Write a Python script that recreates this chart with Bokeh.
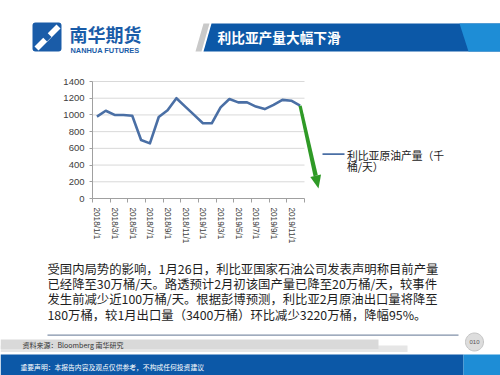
import numpy as np
from bokeh.plotting import figure
from bokeh.models import (Range1d, FixedTicker, Label, BoxAnnotation, PolyAnnotation, LinearAxis)
from bokeh.embed import file_html
from bokeh.resources import INLINE

# ---------------- data ----------------
months = ["2018/1/1", "2018/2/1", "2018/3/1", "2018/4/1", "2018/5/1", "2018/6/1",
          "2018/7/1", "2018/8/1", "2018/9/1", "2018/10/1", "2018/11/1", "2018/12/1",
          "2019/1/1", "2019/2/1", "2019/3/1", "2019/4/1", "2019/5/1", "2019/6/1",
          "2019/7/1", "2019/8/1", "2019/9/1", "2019/10/1", "2019/11/1", "2019/12/1"]
production = [980, 1050, 1000, 1000, 990, 700, 660, 975, 1055, 1200, 1100, 1000,
              900, 900, 1090, 1190, 1150, 1150, 1100, 1070, 1120, 1180, 1170, 1110]
y_ticks = [0, 200, 400, 600, 800, 1000, 1200, 1400]
tick_labels = months[::2]

series_name_1 = "利比亚原油产量（千"
series_name_2 = "桶/天）"
slide_title = "利比亚产量大幅下滑"
brand_cn = "南华期货"
brand_en = "NANHUA FUTURES"
paragraph = ["受国内局势的影响，1月26日，利比亚国家石油公司发表声明称目前产量",
             "已经降至30万桶/天。路透预计2月初该国产量已降至20万桶/天，较事件",
             "发生前减少近100万桶/天。根据彭博预测，利比亚2月原油出口量将降至",
             "180万桶，较1月出口量（3400万桶）环比减少3220万桶，降幅95%。"]
source_text = "资料来源：Bloomberg 南华研究"
disclaimer = "重要声明：本报告内容及观点仅供参考，不构成任何投资建议"
page_no = "010"

# ---------------- layout (page px) ----------------
FX0, FX1, FY0, FY1 = 92, 304, 81, 198   # chart plot area on the page
W, H = 500, 375
YMAX = 1400
N = len(months)
KX = (FX1 - FX0) / N
KY = (FY1 - FY0) / YMAX

CJK = "Noto Sans CJK SC"
BLUE = "#0c58a7"
LBLUE = "#1e8dd6"
LINE = "#4a6fa5"
GREEN = "#2f9a26"
AXC = "#a0a0a0"


def sx(px):
    return px


def sy(py):
    return H - py


# the frame covers the whole canvas; the chart ranges are set so that the
# category/value area lands on the plot area of the slide
p = figure(width=W, height=H,
           x_range=Range1d(-FX0 / KX, (W - FX0) / KX),
           y_range=Range1d(-(H - FY1) / KY, FY1 / KY),
           x_axis_location=None, y_axis_location=None,
           output_backend="svg", toolbar_location=None, title=None,
           min_border=0, min_border_left=0, min_border_right=0,
           min_border_top=0, min_border_bottom=0)
p.outline_line_color = None
p.background_fill_color = "white"
p.border_fill_color = "white"
p.grid.visible = False

# grid lines
p.segment(x0=0, x1=N, y0=y_ticks[1:], y1=y_ticks[1:], line_color="#d9d9d9", line_width=1)

# x axis
xt = [i + 0.5 for i in range(0, N, 2)]
xaxis = LinearAxis(fixed_location=0, bounds=(0, N),
                   ticker=FixedTicker(ticks=xt, minor_ticks=list(range(0, N + 1, 2))))
xaxis.major_label_overrides = {t: lab for t, lab in zip(xt, tick_labels)}
xaxis.major_label_orientation = "vertical"
xaxis.major_tick_line_color = None
xaxis.major_tick_out = 0
xaxis.major_tick_in = 0
xaxis.minor_tick_line_color = AXC
xaxis.minor_tick_out = 4
xaxis.minor_tick_in = 0
xaxis.axis_line_color = AXC
xaxis.major_label_standoff = 5
xaxis.major_label_text_font = "Liberation Sans"
xaxis.major_label_text_font_size = "8.2px"
xaxis.major_label_text_color = "#404040"
p.add_layout(xaxis, "below")

# y axis
yaxis = LinearAxis(fixed_location=0, bounds=(0, YMAX), ticker=FixedTicker(ticks=y_ticks))
yaxis.major_tick_out = 3
yaxis.major_tick_in = 0
yaxis.major_tick_line_color = AXC
yaxis.minor_tick_line_color = None
yaxis.axis_line_color = AXC
yaxis.major_label_standoff = 5
yaxis.major_label_text_font = "Liberation Sans"
yaxis.major_label_text_font_size = "9.5px"
yaxis.major_label_text_color = "#404040"
p.add_layout(yaxis, "left")

# series
xs = [i + 0.5 for i in range(N)]
p.line(xs, production, line_color=LINE, line_width=2.6, line_join="round")


def box(x0, y0, x1, y1, color, **kw):
    p.add_layout(BoxAnnotation(left=sx(x0), right=sx(x1), top=sy(y0), bottom=sy(y1),
                               left_units="screen", right_units="screen",
                               top_units="screen", bottom_units="screen",
                               fill_color=color, fill_alpha=1, line_color=None,
                               level="underlay", **kw))


def poly(pts, color, line=None):
    p.add_layout(PolyAnnotation(xs=[sx(a) for a, b in pts], ys=[sy(b) for a, b in pts],
                                xs_units="screen", ys_units="screen",
                                fill_color=color, fill_alpha=1,
                                line_color=line, line_alpha=1 if line else 0))


def label(x, y, text, size, color="#222222", font=CJK, style="normal", align="left"):
    p.add_layout(Label(x=sx(x), y=sy(y), x_units="screen", y_units="screen", text=text,
                       text_font=font, text_font_size=size, text_color=color,
                       text_font_style=style, text_align=align, text_baseline="middle"))


# green arrow, anchored at the last data point (converted to page px)
start = np.array([FX0 + (N - 0.5) * KX, FY1 - production[-1] * KY])
tip = np.array([318.0, 188.0])
d = (tip - start) / np.linalg.norm(tip - start)
n = np.array([-d[1], d[0]])
base = tip - d * 13
poly([tuple(start + n * 1.6), tuple(base + n * 2.2), tuple(base - n * 2.2), tuple(start - n * 1.6)], GREEN)
poly([tuple(base + n * 5.5), tuple(tip), tuple(base - n * 5.5)], GREEN)

# legend
box(322, 152.7, 344, 154.4, LINE)
label(346.5, 154, series_name_1, "10.8px")
label(346.5, 165.5, series_name_2, "10.8px")

# header logo
box(32, 22, 61, 51, "#1a5ca8", border_radius=3)
poly([(34, 46), (56, 24), (60, 28), (38, 50)], "white")
poly([(46.5, 32), (51, 36.5), (46.5, 41), (42, 36.5)], "#1a5ca8")
label(69, 33.5, brand_cn, "18px", color="#1a5ca8", style="bold")
label(70, 49.5, brand_en, "7.4px", color="#1a5ca8", font="Liberation Sans", style="bold")

# title banner
poly([(203, 23), (209, 23), (201, 51), (195, 51)], "#c9c9c9")
poly([(211, 23), (500, 23), (500, 51), (203, 51)], BLUE)
poly([(459, 23), (500, 23), (500, 51), (468, 51)], LBLUE)
label(217, 36.5, slide_title, "13.7px", color="white", style="bold")

# paragraph
for i, line in enumerate(paragraph):
    label(47, 268.5 + 15.2 * i, line, "12.35px", color="#1e1e1e")

# footer
box(47, 334, 458, 335.2, "#8090a8")
box(0, 345, 407, 351.5, "#e6e6e6")
box(0, 339, 378, 348.5, "#d9d9d9")
label(22, 344, source_text, "7px", color="#333333")
ang = np.linspace(0, 2 * np.pi, 40)
poly(list(zip(474 + 9 * np.cos(ang), 341.5 + 9 * np.sin(ang))), "#dddddd", line="#c4c4c4")
label(474, 341.5, page_no, "6px", color="#555555", font="Liberation Sans", align="center")
box(0, 354, 463, 375, BLUE)
poly([(463, 354), (500, 354), (500, 375), (463, 375)], LBLUE)
label(20, 366.5, disclaimer, "6.8px", color="white")

open("out.html", "w").write(file_html(p, INLINE))
